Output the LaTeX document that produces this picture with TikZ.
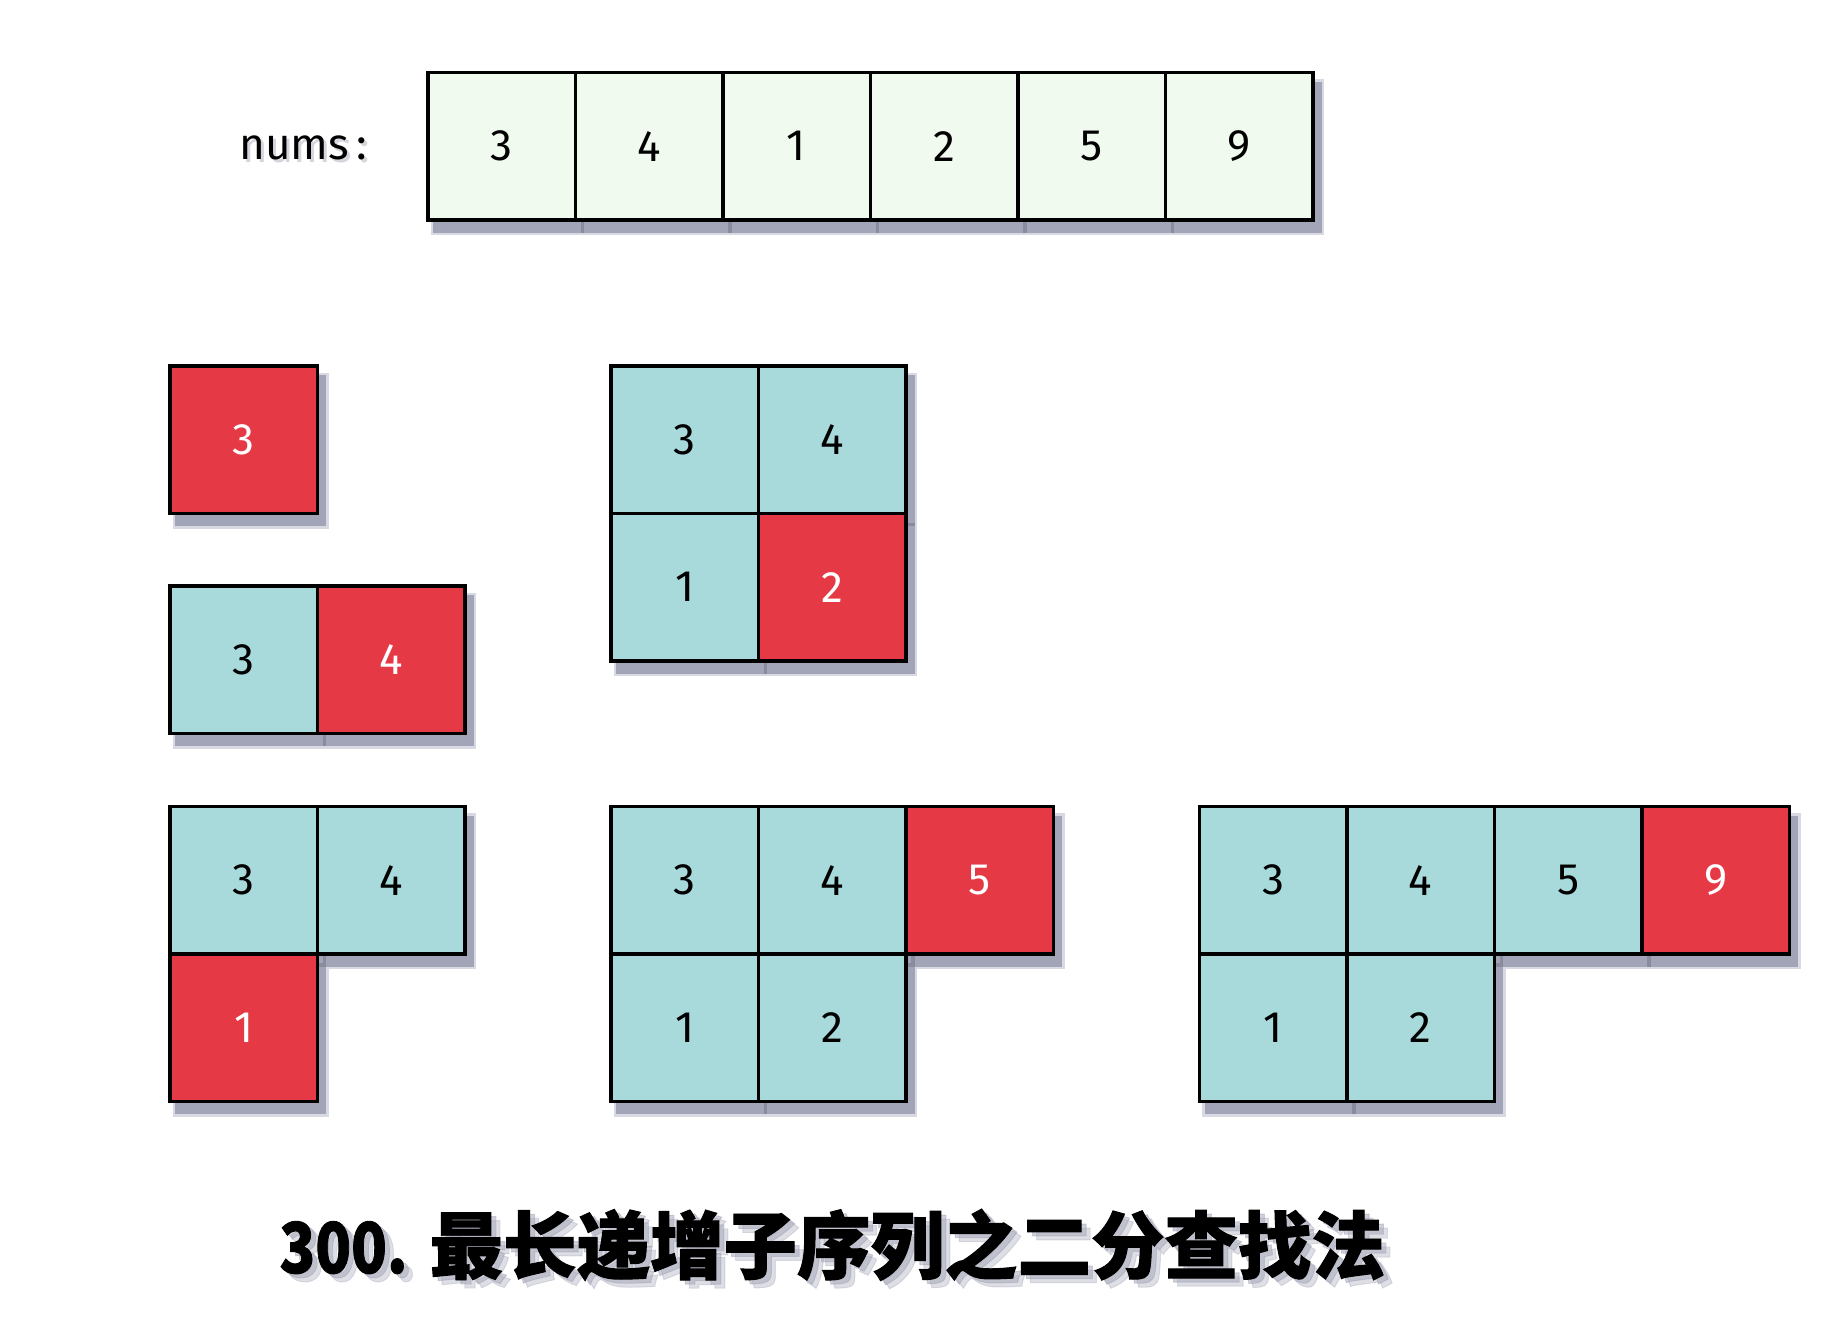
\documentclass[tikz,border=0pt]{standalone}
\usepackage{fontspec}
\setmainfont{Fira Sans}
\newfontfamily\cjk{Noto Sans CJK SC}[BoldFeatures={FakeBold=1.3}]
\usetikzlibrary{calc}
\definecolor{honey}{HTML}{F1FAEE}
\definecolor{powder}{HTML}{A8DADC}
\definecolor{imperial}{HTML}{E63946}
\definecolor{shcore}{HTML}{A2A4B7}
\definecolor{shfringe}{HTML}{D8D9E2}
\definecolor{shmark}{HTML}{8A8C9E}
\def\pp{147.5}
\tikzset{
  cellbox/.style={draw=black, line width=3.5pt, minimum size=147.5pt, inner sep=0pt,
    font=\fontsize{44}{50}\selectfont},
  shadowcore/.style={fill=shcore, draw=none, minimum size=151pt, inner sep=0pt},
  shadowfringe/.style={fill=shfringe, draw=none, minimum size=156pt, inner sep=0pt},
  shadowmark/.style={draw=shmark, line width=3.5pt},
  titlefont/.style={font=\cjk\bfseries\fontsize{73.5}{84}\selectfont},
  numfont/.style={font=\cjk\bfseries\fontsize{70}{80}\selectfont},
  labelfont/.style={font=\fontsize{44}{50}\selectfont},
}
\newcommand\drawgroup[4]{%
  \foreach \c/\r/\f/\t/\l [count=\k] in {#4} {
    \node[shadowfringe] (#3f\k) at ({#1+\c*\pp+\pp/2+7},{#2+\r*\pp+\pp/2+11}) {};
  }
  \foreach \c/\r/\f/\t/\l [count=\k] in {#4} {
    \node[shadowcore] (#3s\k) at ({#1+\c*\pp+\pp/2+7},{#2+\r*\pp+\pp/2+11}) {};
  }
  \foreach \c/\r/\f/\t/\l [count=\k] in {#4} {
    \ifnum\c>0 \draw[shadowmark] ({#1+\c*\pp+7},{#2+\r*\pp+11-1.75}) -- ++(0,{\pp+3.5}); \fi
    \ifnum\r>0 \draw[shadowmark] ({#1+\c*\pp+7-1.75},{#2+\r*\pp+11}) -- ++({\pp+3.5},0); \fi
  }
  \foreach \c/\r/\f/\t/\l [count=\k] in {#4} {
    \node[cellbox, fill=\f, text=\t] (#3\k) at ({#1+\c*\pp+\pp/2},{#2+\r*\pp+\pp/2}) {\l};
  }
}
\newcommand\titlenum{\scalebox{0.84}[1]{300.}}
\begin{document}
\begin{tikzpicture}[x=1pt,y=-1pt]
\useasboundingbox[fill=white] (0,0) rectangle (1839,1320);

% label
\node[labelfont, text=shcore, opacity=0.45] (numssh) at (306,151) {nums\,:};
\node[labelfont] (nums) at (303,147.5) {nums\,:};

% top array
\drawgroup{427.75}{72.5}{n}{0/0/honey/black/3,1/0/honey/black/4,2/0/honey/black/1,3/0/honey/black/2,4/0/honey/black/5,5/0/honey/black/9}

% groups
\drawgroup{170}{366}{a}{0/0/imperial/white/3}
\drawgroup{170}{586}{b}{0/0/powder/black/3,1/0/imperial/white/4}
\drawgroup{170}{806.5}{c}{0/0/powder/black/3,1/0/powder/black/4,0/1/imperial/white/1}
\drawgroup{611}{366}{d}{0/0/powder/black/3,1/0/powder/black/4,0/1/powder/black/1,1/1/imperial/white/2}
\drawgroup{611}{806.5}{e}{0/0/powder/black/3,1/0/powder/black/4,2/0/imperial/white/5,0/1/powder/black/1,1/1/powder/black/2}
\drawgroup{1199.3}{806.5}{f}{0/0/powder/black/3,1/0/powder/black/4,2/0/powder/black/5,3/0/imperial/white/9,0/1/powder/black/1,1/1/powder/black/2}

% title with soft shadow
\node[numfont, anchor=base west, text=shcore, opacity=0.35] (tnsh2) at (285,1281) {\titlenum};
\node[titlefont, anchor=base west, text=shcore, opacity=0.35] (tcsh2) at (435,1281) {最长递增子序列之二分查找法};
\node[numfont, anchor=base west, text=shcore, opacity=0.5] (tnsh) at (281,1277) {\titlenum};
\node[titlefont, anchor=base west, text=shcore, opacity=0.5] (tcsh) at (431,1277) {最长递增子序列之二分查找法};
\node[numfont, anchor=base west] (titlen) at (276,1273) {\titlenum};
\node[titlefont, anchor=base west] (titlecjk) at (426,1273) {最长递增子序列之二分查找法};
\end{tikzpicture}
\end{document}
